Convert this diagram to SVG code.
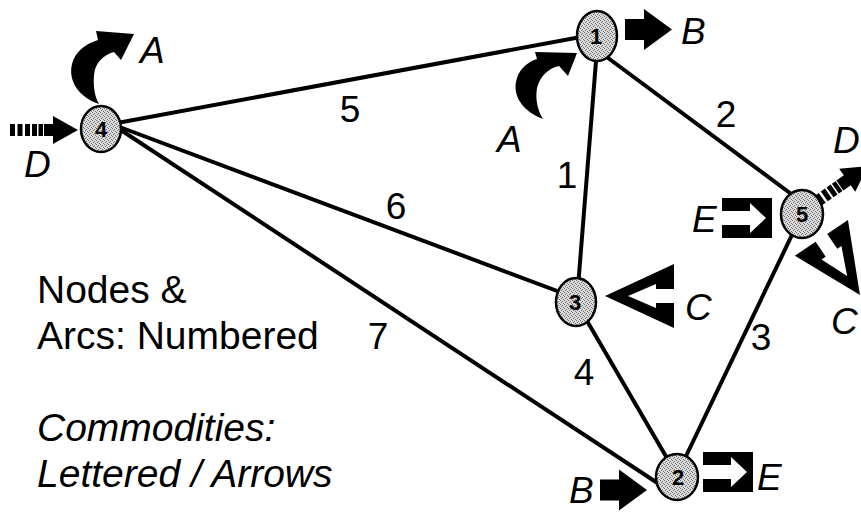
<svg xmlns="http://www.w3.org/2000/svg" width="861" height="512" viewBox="0 0 861 512">
  <defs>
    <style>
      .edge { stroke: #000; stroke-width: 4; stroke-linecap: round; fill: none; }
      .node { fill: url(#stipple); stroke: #000; stroke-width: 2.5; }
      .nid { font-family: "Liberation Sans", Arial, Helvetica, sans-serif; font-weight: bold; font-size: 22px; text-anchor: middle; fill: #000; }
      .lbl { font-family: "Liberation Sans", Arial, Helvetica, sans-serif; font-size: 37px; text-anchor: middle; fill: #000; }
      .com { font-family: "Liberation Sans", Arial, Helvetica, sans-serif; font-style: italic; font-size: 37px; fill: #000; }
      .note { font-family: "Liberation Sans", Arial, Helvetica, sans-serif; font-size: 39px; fill: #000; }
      .ink { fill: #000; }
    </style>
    <pattern id="stipple" width="4" height="4" patternUnits="userSpaceOnUse">
      <rect width="4" height="4" fill="#dcdcdc"/>
      <rect x="0" y="0" width="1" height="1" fill="#6e6e6e"/>
      <rect x="2" y="1" width="1" height="1" fill="#6e6e6e"/>
      <rect x="1" y="2" width="1" height="1" fill="#6e6e6e"/>
      <rect x="3" y="3" width="1" height="1" fill="#6e6e6e"/>
    </pattern>
    <!-- solid block arrow, pointing +x, tail at origin -->
    <g id="solidArrow">
      <rect x="0" y="-10.5" width="21" height="21"/>
      <polygon points="19,-20.5 47,0 19,20.5"/>
    </g>
    <!-- dashed-tail arrow, pointing +x -->
    <g id="dashArrow">
      <rect x="0" y="-6" width="5" height="12"/>
      <rect x="7.5" y="-6" width="5" height="12"/>
      <rect x="15" y="-6" width="5" height="12"/>
      <rect x="22" y="-6" width="5" height="12"/>
      <rect x="28.5" y="-6" width="4.5" height="12"/>
      <rect x="34" y="-6" width="10" height="12"/>
      <polygon points="43,-14 68,0 43,14"/>
    </g>
    <!-- notched hollow arrowhead, tip at origin, pointing -x -->
    <path id="notchArrow" d="M0,0 L69,-32 L69,-7 L51,-7 L51,-12 L23,0 L51,12 L51,7 L69,7 L69,32 Z"/>
    <!-- black box with a white arrow cut through it -->
    <g id="boxArrow">
      <rect x="0" y="0" width="50" height="40" fill="#000"/>
      <polygon points="-1,13 28,13 28,5 44,20 28,35 28,27 -1,27" fill="#fff"/>
    </g>
  </defs>

  <rect width="861" height="512" fill="#fff"/>

  <!-- arcs -->
  <g id="arcs">
    <line class="edge" x1="101" y1="126" x2="597" y2="34"/>
    <line class="edge" x1="101" y1="120" x2="576" y2="298"/>
    <line class="edge" x1="101" y1="117" x2="662" y2="486"/>
    <line class="edge" x1="598" y1="36" x2="577" y2="300"/>
    <line class="edge" x1="600" y1="52" x2="802" y2="202"/>
    <line class="edge" x1="802" y1="214" x2="676" y2="477"/>
    <line class="edge" x1="576" y1="302" x2="678" y2="477"/>
  </g>

  <!-- arc numbers -->
  <g id="arc-labels">
    <text class="lbl" x="350" y="122">5</text>
    <text class="lbl" x="567" y="188">1</text>
    <text class="lbl" x="396" y="219">6</text>
    <text class="lbl" x="378" y="349">7</text>
    <text class="lbl" x="726" y="127">2</text>
    <text class="lbl" x="584" y="385">4</text>
    <text class="lbl" x="761" y="350">3</text>
  </g>

  <!-- commodity arrows -->
  <g id="commodities">
    <path class="ink" d="M99,104 C78,97 68,80 72,64 C75,52 85,44 98,40 L96,31 L134,34 L121,60 L114,52 C103,55 95,63 94,75 C93,87 95,97 99,104 Z"/>
    <text class="com" x="140" y="63">A</text>
    <use href="#dashArrow" transform="translate(10,130)"/>
    <text class="com" x="24" y="177">D</text>

    <path class="ink" d="M543,119 C524,112 513,97 516,82 C518,70 527,62 537,59 L535,52 L577,53 L568,76 L559,66 C549,68 540,76 537,88 C535,100 538,111 543,119 Z"/>
    <text class="com" x="497" y="152">A</text>
    <use href="#solidArrow" transform="translate(625,29.5)"/>
    <text class="com" x="681" y="44">B</text>

    <use href="#dashArrow" transform="translate(812,205) rotate(-35)"/>
    <text class="com" x="833" y="153">D</text>
    <use href="#boxArrow" transform="translate(722,198)"/>
    <text class="com" x="692" y="232">E</text>
    <use href="#notchArrow" transform="translate(860,295) rotate(-124)"/>
    <text class="com" x="831" y="334">C</text>

    <use href="#notchArrow" transform="translate(605,296)"/>
    <text class="com" x="685" y="320">C</text>

    <use href="#solidArrow" transform="translate(600,490)"/>
    <text class="com" x="569" y="503">B</text>
    <use href="#boxArrow" transform="translate(703,452)"/>
    <text class="com" x="757" y="490">E</text>
  </g>

  <!-- nodes -->
  <g id="node-4">
    <ellipse class="node" cx="101" cy="129" rx="20" ry="23"/>
    <text class="nid" x="101" y="137">4</text>
  </g>
  <g id="node-1">
    <ellipse class="node" cx="597" cy="36" rx="20" ry="25"/>
    <text class="nid" x="596" y="44">1</text>
  </g>
  <g id="node-5">
    <ellipse class="node" cx="802" cy="214" rx="21" ry="24"/>
    <text class="nid" x="802" y="222">5</text>
  </g>
  <g id="node-3">
    <ellipse class="node" cx="576" cy="302" rx="20" ry="24"/>
    <text class="nid" x="575" y="310">3</text>
  </g>
  <g id="node-2">
    <ellipse class="node" cx="677" cy="477" rx="21" ry="23"/>
    <text class="nid" x="678" y="485">2</text>
  </g>

  <!-- legend -->
  <g id="legend">
    <text class="note" x="37" y="303">Nodes &amp;</text>
    <text class="note" x="37" y="349">Arcs: Numbered</text>
    <text class="note" x="37" y="441" font-style="italic">Commodities:</text>
    <text class="note" x="37" y="487" font-style="italic">Lettered / Arrows</text>
  </g>
</svg>
